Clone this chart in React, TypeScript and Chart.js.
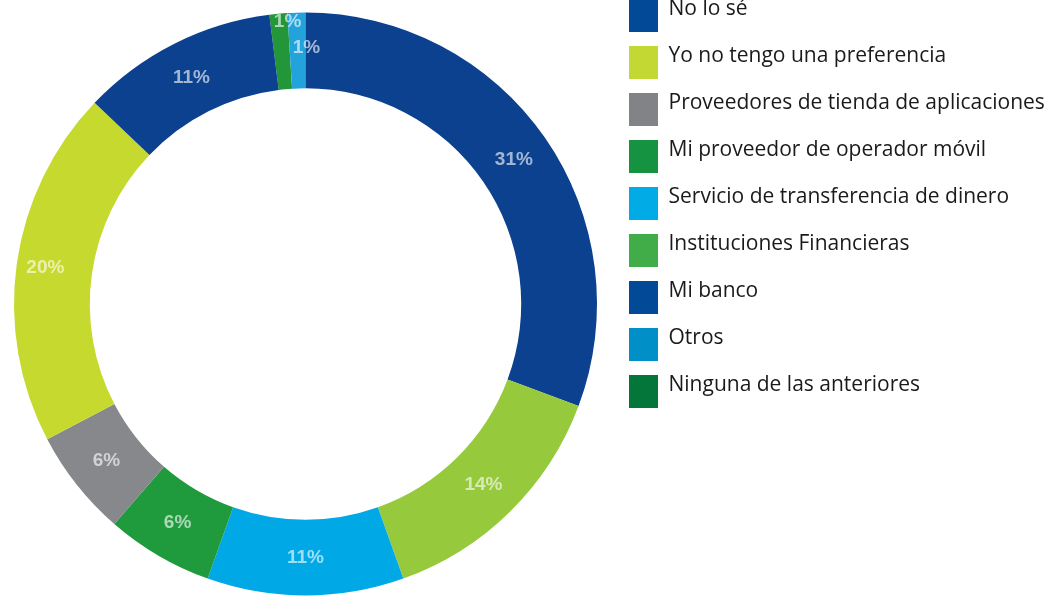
import React, { useEffect, useRef } from "react";
import { Chart, registerables } from "chart.js";

Chart.register(...registerables);

// ---- data (legend order) ----
const categories = [
  "No lo sé",
  "Yo no tengo una preferencia",
  "Proveedores de tienda de aplicaciones",
  "Mi proveedor de operador móvil",
  "Servicio de transferencia de dinero",
  "Instituciones Financieras",
  "Mi banco",
  "Otros",
  "Ninguna de las anteriores",
];
const values = [11, 20, 6, 6, 11, 14, 31, 1, 1];
const sliceColors = [
  "#0b418e",
  "#c6d92f",
  "#86888c",
  "#1f9a3c",
  "#00a9e6",
  "#97c93d",
  "#0b418e",
  "#23a3dc",
  "#23963a",
];
const legendColors = [
  "#024a97",
  "#c3d833",
  "#818387",
  "#169341",
  "#00abe6",
  "#41ad49",
  "#024a97",
  "#008fc6",
  "#05763a",
];
const firstAtTop = "Mi banco";

// ---- styling ----
const W = 1060;
const H = 597;
const canvasTop = -27;
const canvasH = 662;
const legendFont = { family: '"Open Sans", sans-serif', size: 21 };
const legendTextColor = "#1a1a1a";
const swatchW = 29;
const swatchH = 33;
const swatchShift = 12;
const legendPad = 26;
const legendLeft = 603;
const labelTweaks: Record<string, { radial?: number; angle?: number }> = {
  "Ninguna de las anteriores": { radial: 0.88, angle: 1.7 },
  Otros: { radial: 0.54, angle: 2.0 },
  "Yo no tengo una preferencia": { radial: 0.62 },
};

const sliceLabelPlugin = {
  id: "sliceLabels",
  afterDatasetsDraw(chart: any, _args: any, opts: any) {
    const meta = chart.getDatasetMeta(0);
    const data = chart.data.datasets[0].data as number[];
    const names = chart.data.labels as string[];
    const ctx = chart.ctx as CanvasRenderingContext2D;
    ctx.save();
    ctx.font = opts.font;
    ctx.fillStyle = opts.color;
    ctx.textAlign = "center";
    ctx.textBaseline = "middle";
    meta.data.forEach((arc: any, i: number) => {
      const p = arc.getProps(
        ["x", "y", "startAngle", "endAngle", "innerRadius", "outerRadius"],
        true
      );
      const t = labelTweaks[names[i]] || {};
      const mid = (p.startAngle + p.endAngle) / 2 + ((t.angle || 0) * Math.PI) / 180;
      const r = p.innerRadius + (p.outerRadius - p.innerRadius) * (t.radial ?? 0.5);
      ctx.fillText(`${data[i]}%`, p.x + Math.cos(mid) * r, p.y + Math.sin(mid) * r);
    });
    ctx.restore();
  },
};

export default function App() {
  const canvasRef = useRef<HTMLCanvasElement | null>(null);

  useEffect(() => {
    const canvas = canvasRef.current;
    if (!canvas) return;

    // drawn clockwise = reverse of legend order
    const order = categories.map((_, i) => categories.length - 1 - i);
    const drawLabels = order.map((i) => categories[i]);
    const drawValues = order.map((i) => values[i]);
    const drawColors = order.map((i) => sliceColors[i]);
    const drawLegendColors = order.map((i) => legendColors[i]);
    const total = values.reduce((a, b) => a + b, 0);
    const startIdx = drawLabels.indexOf(firstAtTop);
    const before = drawValues.slice(0, startIdx).reduce((a, b) => a + b, 0);
    const rotation = (-before / total) * 360;

    const swatches = drawLegendColors.map((color) => {
      const c = document.createElement("canvas");
      c.width = swatchW;
      c.height = swatchH + swatchShift;
      const g = c.getContext("2d")!;
      g.fillStyle = color;
      g.fillRect(0, swatchShift, swatchW, swatchH);
      return c;
    });

    const m = document.createElement("canvas").getContext("2d")!;
    m.font = `${legendFont.size}px ${legendFont.family}`;
    const maxW = Math.max(...categories.map((c) => m.measureText(c).width));
    const legendWidth = legendPad + swatchW + legendFont.size / 2 + maxW + 10;
    const padRight = W - legendLeft - legendWidth;

    const chart = new Chart(canvas, {
      type: "doughnut",
      data: {
        labels: drawLabels,
        datasets: [
          {
            data: drawValues,
            backgroundColor: drawColors,
            borderWidth: 0,
            hoverOffset: 0,
            cutout: "74%",
            radius: 291.5,
            rotation,
          } as any,
        ],
      },
      options: {
        responsive: false,
        animation: false,
        devicePixelRatio: 1,
        events: [],
        layout: { padding: { top: 0, bottom: 0, left: 8, right: padRight } },
        plugins: {
          tooltip: { enabled: false },
          legend: {
            position: "right",
            align: "start",
            reverse: true,
            labels: {
              usePointStyle: true,
              pointStyleWidth: swatchW,
              padding: legendPad,
              font: legendFont,
              color: legendTextColor,
              generateLabels: (ch: any) =>
                (ch.data.labels as string[]).map((text, i) => ({
                  text,
                  fillStyle: drawLegendColors[i],
                  strokeStyle: "rgba(0,0,0,0)",
                  lineWidth: 0,
                  pointStyle: swatches[i],
                  hidden: false,
                  index: i,
                  fontColor: legendTextColor,
                })),
            },
          },
          sliceLabels: {
            font: 'bold 19px "Liberation Sans", Arial, sans-serif',
            color: "rgba(255,255,255,0.62)",
          },
        } as any,
      },
      plugins: [sliceLabelPlugin],
    });

    return () => chart.destroy();
  }, []);

  return (
    <div
      style={{
        position: "fixed",
        left: 0,
        top: 0,
        width: W,
        height: H,
        background: "#ffffff",
        overflow: "hidden",
      }}
    >
      <canvas
        ref={canvasRef}
        width={W}
        height={canvasH}
        style={{
          position: "absolute",
          left: 0,
          top: canvasTop,
          display: "block",
          width: W,
          height: canvasH,
        }}
      />
    </div>
  );
}
